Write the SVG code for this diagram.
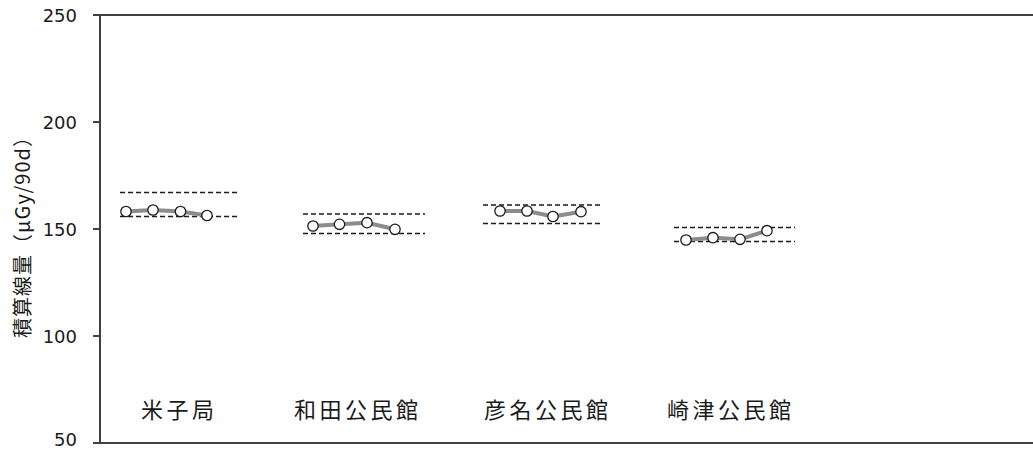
<svg xmlns="http://www.w3.org/2000/svg" width="1033" height="450" viewBox="0 0 1033 450">
<style>
.axis{stroke:#404040;stroke-width:2;fill:none}
.tick{font-family:"DejaVu Sans",sans-serif;font-size:18px;fill:#1a1a1a;text-anchor:end}
.lbl{font-family:"Noto Sans CJK JP",sans-serif;font-size:22px;fill:#1a1a1a;letter-spacing:3.5px}
.ttl{font-family:"Noto Sans CJK JP",sans-serif;font-size:20px;fill:#1a1a1a;text-anchor:middle;letter-spacing:1px}
.dash{stroke:#1a1a1a;stroke-width:1.3;stroke-dasharray:5,3;fill:none}
.series{stroke:#8c8c8c;stroke-width:4;fill:none;stroke-linejoin:round}
.pt{fill:#fff;stroke:#1a1a1a;stroke-width:1.3}
</style>
<rect width="1033" height="450" fill="#fff"/>
<g id="axes">
<line class="axis" x1="100" y1="15" x2="1033" y2="15"/>
<line class="axis" x1="100" y1="443" x2="1033" y2="443"/>
<line class="axis" x1="100" y1="14" x2="100" y2="444"/>
<path class="axis" d="M93 15H100M93 122H100M93 229H100M93 336H100M93 443H100"/>
<text class="tick" x="77" y="22">250</text>
<text class="tick" x="77" y="129">200</text>
<text class="tick" x="77" y="236">150</text>
<text class="tick" x="77" y="343">100</text>
<text class="tick" x="77" y="446">50</text>
<text class="ttl" transform="translate(30,232) rotate(-90)">積算線量（μGy/90d）</text>
</g>
<g id="yonago">
<line class="dash" x1="120" y1="192.5" x2="239" y2="192.5"/>
<line class="dash" x1="120" y1="216.5" x2="239" y2="216.5"/>
<polyline class="series" points="126,211.5 153,210 180.5,211.5 207,215.5"/>
<circle class="pt" cx="126" cy="211.5" r="5.2"/>
<circle class="pt" cx="153" cy="210" r="5.2"/>
<circle class="pt" cx="180.5" cy="211.5" r="5.2"/>
<circle class="pt" cx="207" cy="215.5" r="5.2"/>
<text class="lbl" x="141" y="418">米子局</text>
</g>
<g id="wada">
<line class="dash" x1="303" y1="214" x2="425" y2="214"/>
<line class="dash" x1="303" y1="233.5" x2="425" y2="233.5"/>
<polyline class="series" points="313,226 339.5,224.3 367,222.7 395,229.3"/>
<circle class="pt" cx="313" cy="226" r="5.2"/>
<circle class="pt" cx="339.5" cy="224.3" r="5.2"/>
<circle class="pt" cx="367" cy="222.7" r="5.2"/>
<circle class="pt" cx="395" cy="229.3" r="5.2"/>
<text class="lbl" x="294" y="418">和田公民館</text>
</g>
<g id="hikona">
<line class="dash" x1="483" y1="205" x2="600" y2="205"/>
<line class="dash" x1="483" y1="223.5" x2="600" y2="223.5"/>
<polyline class="series" points="500,211 527,211 553,216.5 581,211.7"/>
<circle class="pt" cx="500" cy="211" r="5.2"/>
<circle class="pt" cx="527" cy="211" r="5.2"/>
<circle class="pt" cx="553" cy="216.5" r="5.2"/>
<circle class="pt" cx="581" cy="211.7" r="5.2"/>
<text class="lbl" x="484" y="418">彦名公民館</text>
</g>
<g id="sakitsu">
<line class="dash" x1="674" y1="227.5" x2="795" y2="227.5"/>
<line class="dash" x1="674" y1="241.5" x2="795" y2="241.5"/>
<polyline class="series" points="686,240 713,237.7 740,239.3 767,230.7"/>
<circle class="pt" cx="686" cy="240" r="5.2"/>
<circle class="pt" cx="713" cy="237.7" r="5.2"/>
<circle class="pt" cx="740" cy="239.3" r="5.2"/>
<circle class="pt" cx="767" cy="230.7" r="5.2"/>
<text class="lbl" x="667" y="418">崎津公民館</text>
</g>
</svg>
